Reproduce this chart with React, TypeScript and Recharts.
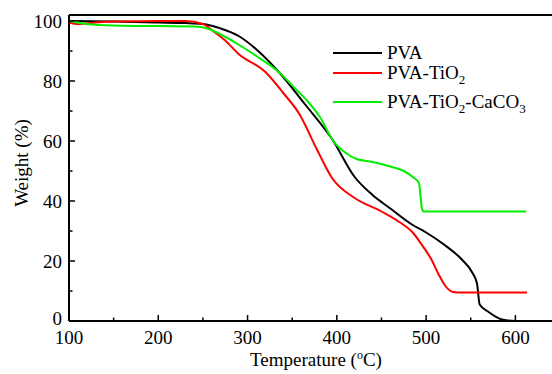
import { LineChart, Line, XAxis, YAxis } from 'recharts'

// TGA curves
const pvaTemp = [100, 150, 200, 230, 250, 270, 290, 310, 335, 365, 395, 420, 440, 460, 485, 500, 520, 540, 552, 557, 560, 570, 585, 600, 641]
const pvaWeight = [100, 99.8, 99.5, 99.3, 99, 97.5, 95, 90.5, 83, 72, 60.5, 48, 42, 37.5, 32, 29.5, 25.5, 20.5, 16, 12.5, 5.5, 3, 0.5, 0, 0]

const tioTemp = [100, 110, 130, 150, 200, 230, 250, 262, 275, 290, 320, 340, 358, 378, 395, 420, 450, 470, 485, 495, 505, 515, 522, 530, 540, 613]
const tioWeight = [99.5, 99, 99.5, 99.8, 100, 100, 99, 96.5, 93.5, 89, 83, 76, 69, 57, 47.5, 41, 36.5, 33, 29.5, 25.5, 21, 15, 11.5, 9.7, 9.5, 9.5]

const cacoTemp = [100, 120, 150, 200, 240, 255, 270, 288, 314, 333, 355, 368, 381, 396, 410, 422, 440, 460, 475, 485, 492, 495, 497, 520, 612]
const cacoWeight = [100, 99, 98.5, 98.3, 98.2, 97.5, 95.5, 92.5, 87.5, 83.5, 77, 73, 68, 60, 56, 54, 53, 51.5, 50, 48, 46, 38, 36.5, 36.5, 36.5]

const xTicks = [100, 150, 200, 250, 300, 350, 400, 450, 500, 550, 600]
const yTicks = [0, 10, 20, 30, 40, 50, 60, 70, 80, 90, 100]

const toRows = (t: number[], w: number[]) => t.map((v, i) => ({ t: v, w: w[i] }))
const pvaData = toRows(pvaTemp, pvaWeight)
const tioData = toRows(tioTemp, tioWeight)
const cacoData = toRows(cacoTemp, cacoWeight)

const FONT = 'Liberation Serif, DejaVu Serif, serif'
const GREEN = '#00ee00'

const BottomTick = (props: any) => {
  const { x, y, payload } = props
  const major = payload.value % 100 === 0
  return (
    <g>
      <line x1={x} x2={x} y1={y} y2={y - (major ? 6 : 3.5)} stroke="#000" strokeWidth={1.5} />
      {major && (
        <text x={x} y={y + 23} textAnchor="middle" fontSize={19} fontFamily={FONT} style={{ fontFamily: FONT }} fill="#000">
          {payload.value}
        </text>
      )}
    </g>
  )
}

const TopTick = (props: any) => {
  const { x, y, payload } = props
  const major = payload.value % 100 === 0
  return <line x1={x} x2={x} y1={y} y2={y + (major ? 6 : 3.5)} stroke="#000" strokeWidth={1.5} />
}

const LeftTick = (props: any) => {
  const { x, y, payload } = props
  const major = payload.value % 20 === 0
  return (
    <g>
      <line x1={x} x2={x + (major ? 6 : 3.5)} y1={y} y2={y} stroke="#000" strokeWidth={1.5} />
      {major && (
        <text x={x - 7} y={y + (payload.value === 0 ? 4 : 7)} textAnchor="end" fontSize={19} fontFamily={FONT} style={{ fontFamily: FONT }} fill="#000">
          {payload.value}
        </text>
      )}
    </g>
  )
}

const legendRows = [
  { name: 'PVA', color: '#000', y: 53 },
  { name: 'PVA-TiO2', color: '#ff0000', y: 73 },
  { name: 'PVA-TiO2-CaCO3', color: GREEN, y: 102 },
]

function LegendLabel({ name }: { name: string }) {
  // digits become subscripts
  const parts = name.split(/(\d)/).filter(Boolean)
  return (
    <>
      {parts.map((p, i) =>
        /\d/.test(p) ? (
          <tspan key={i} dy={5} fontSize={13}>{p}</tspan>
        ) : (
          <tspan key={i} dy={i > 0 && /\d/.test(parts[i - 1]) ? -5 : 0}>{p}</tspan>
        )
      )}
    </>
  )
}

export default function App() {
  return (
    <div style={{ position: 'absolute', left: 0, top: 0, width: 552, height: 374, background: '#fff', fontFamily: FONT }}>
      <LineChart width={552} height={374} margin={{ top: 0, right: 0, bottom: 0, left: 0 }}>
        <XAxis
          dataKey="t"
          type="number"
          domain={[100, 641]}
          ticks={xTicks}
          interval={0}
          height={53}
          tickSize={0}
          tickMargin={0}
          tick={<BottomTick />}
          axisLine={{ stroke: '#000', strokeWidth: 2 }}
          allowDuplicatedCategory={false}
        />
        <XAxis
          xAxisId="top"
          orientation="top"
          dataKey="t"
          type="number"
          domain={[100, 641]}
          ticks={xTicks}
          interval={0}
          height={15}
          tickSize={0}
          tickMargin={0}
          tick={<TopTick />}
          axisLine={{ stroke: '#000', strokeWidth: 2 }}
        />
        <YAxis
          type="number"
          domain={[0, 102]}
          ticks={yTicks}
          interval={0}
          width={69}
          tickSize={0}
          tickMargin={0}
          tick={<LeftTick />}
          axisLine={{ stroke: '#000', strokeWidth: 2 }}
        />
        <Line data={pvaData} dataKey="w" type="monotone" stroke="#000" strokeWidth={2} dot={false} isAnimationActive={false} />
        <Line data={tioData} dataKey="w" type="monotone" stroke="#ff0000" strokeWidth={2} dot={false} isAnimationActive={false} />
        <Line data={cacoData} dataKey="w" type="monotone" stroke={GREEN} strokeWidth={2} dot={false} isAnimationActive={false} />
      </LineChart>
      <svg width={552} height={374} style={{ position: 'absolute', left: 0, top: 0, pointerEvents: 'none', fontFamily: FONT }}>
        {legendRows.map((r) => (
          <g key={r.name}>
            <line x1={333} x2={382} y1={r.y} y2={r.y} stroke={r.color} strokeWidth={2} />
            <text x={387} y={r.y + 6} fontSize={19} fill="#000">
              <LegendLabel name={r.name} />
            </text>
          </g>
        ))}
        <text x={316} y={366} textAnchor="middle" fontSize={19} fill="#000">
          Temperature (<tspan dy={-7} fontSize={12}>o</tspan>
          <tspan dy={7}>C)</tspan>
        </text>
        <text x={28} y={163} textAnchor="middle" fontSize={19} fill="#000" transform="rotate(-90 28 163)">
          Weight (%)
        </text>
      </svg>
    </div>
  )
}
